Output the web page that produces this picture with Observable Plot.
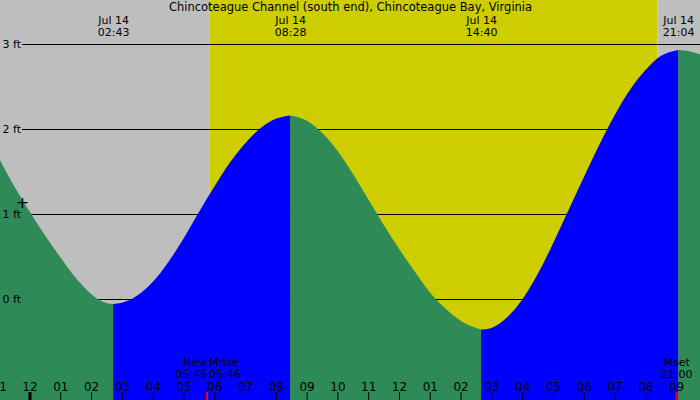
<!DOCTYPE html>
<html><head><meta charset="utf-8">
<script src="https://cdn.jsdelivr.net/npm/d3@7"></script>
<script src="https://cdn.jsdelivr.net/npm/@observablehq/plot@0.6"></script>
<style>html,body{margin:0;padding:0;background:#fff} svg{display:block}</style>
</head><body><div id="chart"></div>
<script>
const title = "Chincoteague Channel (south end), Chincoteague Bay, Virginia";
// tide curve: hours since midnight Jul 14, height in feet
const tideTimes = [-0.96, -0.5, 0, 0.5, 1, 1.5, 2, 2.4, 2.717,
  3, 3.5, 4, 4.5, 5, 5.5, 6, 6.5, 7, 7.5, 8, 8.467,
  9, 9.5, 10, 10.5, 11, 11.5, 12, 12.5, 13, 13.5, 14, 14.667,
  15, 15.5, 16, 16.5, 17, 17.5, 18, 18.5, 19, 19.5, 20, 20.5, 21, 21.067,
  21.5, 21.78];
const tideHeights = [1.635, 1.33, 1.03, 0.75, 0.49, 0.25, 0.06, -0.035, -0.06,
  -0.045, 0.04, 0.20, 0.43, 0.71, 1.02, 1.32, 1.60, 1.83, 2.01, 2.12, 2.16,
  2.10, 1.955, 1.745, 1.475, 1.175, 0.875, 0.59, 0.33, 0.08, -0.11, -0.255, -0.36,
  -0.34, -0.22, -0.01, 0.29, 0.65, 1.04, 1.43, 1.81, 2.16, 2.46, 2.69, 2.86, 2.925, 2.93,
  2.91, 2.88];
// high / low tide events
const extremaTimes = [2.717, 8.467, 14.667, 21.067];
const extremaDates = ["Jul 14", "Jul 14", "Jul 14", "Jul 14"];
const extremaLabels = ["02:43", "08:28", "14:40", "21:04"];
// daylight
const sunriseTime = 5.84;
const sunsetTime = 20.39;
// hour axis
const hourTicks = [-1, 0, 1, 2, 3, 4, 5, 6, 7, 8, 9, 10, 11, 12, 13, 14, 15, 16, 17, 18, 19, 20, 21];
const hourLabels = ["11", "12", "01", "02", "03", "04", "05", "06", "07", "08", "09", "10", "11", "12", "01", "02", "03", "04", "05", "06", "07", "08", "09"];
// moon events
const moonTimes = [5.75, 5.767, 21.0];
const moonNames = ["New", "Mrise", "Mset"];
const moonLabels = ["05:45", "05:46", "21:00"];
// current level marker
const nowTime = -0.244;
const nowHeight = 1.14;
// feet gridlines
const feetTicks = [0, 1, 2, 3];

const xDomain = [-29.5 / 30.79, (700 - 29.5) / 30.79];
const yDomain = [(299 - 400) / 85, 299 / 85];

const tide = tideTimes.map((t, i) => ({t, h: tideHeights[i]}));
const bounds = [xDomain[0] - 1, ...extremaTimes, xDomain[1] + 1];
const falling = [], rising = [];
for (let s = 0; s < bounds.length - 1; s++) {
  const pts = tide.filter(d => d.t >= bounds[s] && d.t <= bounds[s + 1]).map(d => ({...d, seg: s}));
  (s % 2 === 0 ? falling : rising).push(...pts);
}
const extrema = extremaTimes.map((t, i) => ({t, label: extremaDates[i] + "\n" + extremaLabels[i]}));
const hours = hourTicks.map((t, i) => ({t, label: hourLabels[i]}));
const moon = moonTimes.map((t, i) => ({t, label: moonNames[i] + "\n" + moonLabels[i]}));
const periods = [
  {x1: xDomain[0] - 1, x2: sunriseTime, fill: "#bebebe"},
  {x1: sunriseTime, x2: sunsetTime, fill: "#cdcd00"},
  {x1: sunsetTime, x2: xDomain[1] + 1, fill: "#bebebe"}
];
const font = "DejaVu Sans";
const fs = 11;
const moonText = (i, anchor, dx) => Plot.text([moon[i]], {x: "t", text: "label", frameAnchor: "top", lineAnchor: "top",
  dy: 357, dx, textAnchor: anchor, lineHeight: 12 / fs, fill: "black"});

const chart = Plot.plot({
  width: 700, height: 400,
  margin: 0,
  style: {fontFamily: font, fontSize: fs + "px", background: "#fff"},
  x: {domain: xDomain, axis: null},
  y: {domain: yDomain, axis: null},
  marks: [
    Plot.rectX(periods, {x1: "x1", x2: "x2", fill: d => d.fill}),
    Plot.ruleY(feetTicks, {stroke: "black", strokeWidth: 1, insetLeft: 22}),
    Plot.areaY(falling, {x: "t", y1: yDomain[0] - 1, y2: "h", z: "seg", fill: "#2e8b57", curve: "monotone-x"}),
    Plot.areaY(rising, {x: "t", y1: yDomain[0] - 1, y2: "h", z: "seg", fill: "#0000ff", curve: "monotone-x"}),
    Plot.text(feetTicks, {y: d => d, text: d => d + " ft", frameAnchor: "left", textAnchor: "start", dx: 2, fill: "black"}),
    Plot.text([title], {text: d => d, frameAnchor: "top", lineAnchor: "top", dy: 2.5, fontSize: 11.5, fill: "black"}),
    Plot.text(extrema, {x: "t", text: "label", frameAnchor: "top", lineAnchor: "top", dy: 15, lineHeight: 12 / fs, fill: "black"}),
    Plot.text(hours, {x: "t", text: "label", frameAnchor: "top", lineAnchor: "top", dy: 381.5, fill: "black", fontSize: 12}),
    Plot.ruleX(hourTicks.filter(t => t !== 0), {x: d => d, stroke: "black", strokeWidth: 1, insetTop: 392}),
    Plot.ruleX([0], {x: d => d, stroke: "black", strokeWidth: 3, insetTop: 392}),
    Plot.ruleX([moonTimes[0], moonTimes[2]], {x: d => d, stroke: "red", strokeWidth: 2, insetTop: 392}),
    moonText(0, "end", 0),
    moonText(1, "start", 1.5),
    moonText(2, "middle", 0),
    Plot.text([{t: nowTime, h: nowHeight}], {x: "t", y: "h", text: () => "+", fontSize: 16, fill: "black"})
  ]
});
document.getElementById("chart").append(chart);
</script>
</body></html>
